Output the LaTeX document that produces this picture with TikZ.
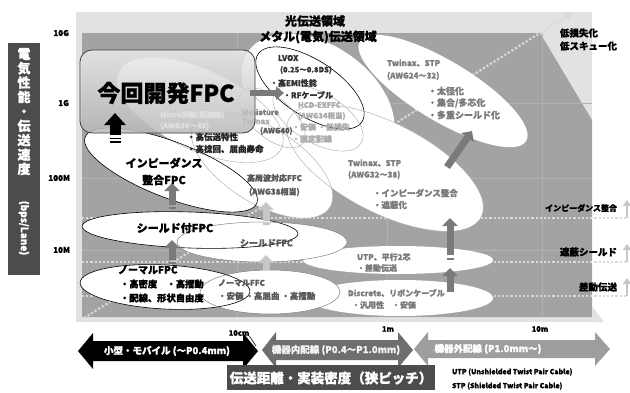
\documentclass[tikz,border=0pt]{standalone}
\usepackage{fontspec}
\setmainfont{Noto Sans CJK JP}[BoldFeatures={FakeBold=1.2}]
\usetikzlibrary{arrows.meta,shapes.geometric}
\newcommand\fsz[1]{\fontsize{#1}{#1}\selectfont}
\definecolor{pdark}{HTML}{A3A3A3}
\definecolor{plight}{HTML}{E2E2E2}
\definecolor{gridc}{HTML}{B2B2B2}
\definecolor{dotc}{HTML}{D9D9D9}
\definecolor{arrdark}{HTML}{7A7A7A}
\definecolor{arrlight}{HTML}{C6C6C6}
\definecolor{tgray}{HTML}{5A5A5A}
\definecolor{tlgray}{HTML}{7C7C7C}
\definecolor{tvlgray}{HTML}{ABABAB}
\definecolor{boxdark}{HTML}{4C4C4C}
\definecolor{arrmid}{HTML}{6E6E6E}
\definecolor{arrpale}{HTML}{9E9E9E}
\newcommand\myellfill[5]{\fill[white, rotate around={#5:(#1,#2)}] (#1,#2) ellipse [x radius=#3pt, y radius=#4pt];}
\newcommand\myelldraw[6]{\draw[#6, rotate around={#5:(#1,#2)}] (#1,#2) ellipse [x radius=#3pt, y radius=#4pt];}
\begin{document}
\begin{tikzpicture}[x=1pt,y=-1pt,
  every node/.style={inner sep=0pt, outer sep=0pt},
  txt/.style={font={\fsz{#1}\bfseries}},
  dotl/.style={draw=dotc, line width=2.2pt, dash pattern=on 2.2pt off 2pt},
  uparr/.style={line width=7pt, -{Triangle[length=8pt,width=15pt]}},
  outk/.style={draw=black, line width=0.6pt},
  outg/.style={draw=gray, line width=0.5pt},
  outl/.style={draw=gray!70, line width=0.4pt}]
\useasboundingbox (0,0) rectangle (630,392);
\fill[white] (0,0) rectangle (630,392);
% plot background
\fill[plight] (76,12) rectangle (592,322);
\fill[plight] (76,12) -- (86,27) -- (76,27) -- cycle;
\fill[pdark] (82,33) -- (540,33) -- (592,120) -- (592,317) -- (82,317) -- cycle;
\fill[plight] (592,306) -- (604,322) -- (592,322) -- cycle;
% grid
\foreach \yy in {103,178,250} \draw[gridc, line width=0.5pt] (82,\yy) -- (592,\yy);
\foreach \xx in {237,387,542} \draw[gridc, line width=0.5pt] (\xx,33) -- (\xx,317);
% dotted guide lines
\draw[dotl, -{Triangle[length=7pt,width=8pt]}] (84,318) -- (572,13);
\foreach \yy in {218,262,296} \draw[dotl] (82,\yy) -- (626,\yy);
\foreach \yy in {218,262,296} \draw[arrlight, line width=2.5pt, -{Triangle[length=6pt,width=8pt]}] (627,\yy) -- (627,\yy-18);
% white ellipse fills
\myellfill{318}{100}{85}{55}{-35}
\myellfill{200}{110}{90}{40}{-25}
\myellfill{262}{165}{80}{38}{-32}
\myellfill{385}{168}{108}{45}{-27}
\myellfill{443}{91}{97}{30}{-31}
\myellfill{171}{170}{92}{28}{-21}
\myellfill{190}{230}{108}{18}{-2}
\myellfill{262}{242}{85}{20}{0}
\myellfill{165}{287}{85}{22}{-3}
\myellfill{270}{292}{70}{22}{0}
\myellfill{398}{260}{95}{14}{0}
\myellfill{400}{298}{93}{18}{0}
% outlines
\myelldraw{200}{110}{90}{40}{-25}{outl}
\myelldraw{310}{88}{62}{28}{-33}{outk}
\myelldraw{318}{118}{50}{25}{-30}{outl}
\myelldraw{272}{118}{40}{20}{-40}{outl}
\myelldraw{262}{165}{80}{38}{-32}{outl}
\myelldraw{385}{168}{108}{45}{-27}{outl}
\myelldraw{171}{170}{92}{28}{-21}{outk}
\myelldraw{190}{230}{108}{18}{-2}{outk}
\myelldraw{262}{242}{85}{20}{0}{outg}
\myelldraw{165}{287}{85}{22}{-3}{outk}
\myelldraw{270}{292}{70}{22}{0}{outg}
% texts behind box
\node[txt=7.5, anchor=west, text=tlgray] (tmini) at (242,112) {Miniature};
\node[txt=7.5, anchor=west, text=tvlgray] (ttwx) at (242,121) {Twinax};
% FPC box
\shade[top color=gray!15, bottom color=gray!55, fill opacity=0.85, rounded corners=12pt] (80,50) rectangle (255,133);
\draw[black!75, line width=0.8pt, rounded corners=12pt] (80,50) rectangle (255,133);
\node[txt=23] (tfpc) at (166,93) {今回開発FPC};
\node[txt=7.5, anchor=west, text=gray!25] (tmic1) at (160,115) {Micro同軸(極細線)};
\node[txt=7.5, anchor=west, text=gray!25] (tmic2) at (160,126) {(AWG36〜40)};
% black up arrow
\draw[black, line width=11pt, -{Triangle[length=12pt,width=21pt]}] (115,135) -- (115,113);
\draw[black, line width=1.6pt] (109.5,138.5) -- (120.5,138.5);
\draw[black, line width=1.6pt] (109.5,142) -- (120.5,142);
% gray arrows
\draw[arrdark, line width=6pt, -{Triangle[length=8pt,width=13pt]}] (250,93) -- (284,93);
\draw[uparr, arrdark] (172,205) -- (172,183);
\draw[arrdark, line width=1.5pt] (168.5,208) -- (175.5,208);
\draw[uparr, arrdark] (172,260) -- (172,240);
\draw[arrdark, line width=1.5pt] (168.5,263) -- (175.5,263);
\draw[uparr, arrlight] (266,221) -- (266,202);
\draw[arrlight, line width=1.5pt] (262.5,224) -- (269.5,224);
\draw[uparr, arrlight] (266,270) -- (266,255);
\draw[uparr, arrdark] (450,255) -- (450,218);
\draw[arrdark, line width=2pt] (446.5,259) -- (453.5,259);
\draw[uparr, arrdark] (450,292) -- (450,268);
\draw[uparr, arrdark] (447,167) -- (472,131);
% top texts
\node[txt=12] (topt) at (315,21) {光伝送領域};
\node[txt=12] (tmet) at (318,37) {メタル(電気)伝送領域};
\node[txt=9.5, anchor=west] (tl1) at (560,33) {低損失化};
\node[txt=9.5, anchor=west] (tl2) at (560,46) {低スキュー化};
% axis labels
\node[txt=8, anchor=east] (y1) at (69,33) {10G};
\node[txt=8, anchor=east] (y2) at (69,103) {1G};
\node[txt=8, anchor=east] (y3) at (70,178) {100M};
\node[txt=8, anchor=east] (y4) at (70,250) {10M};
% left box
\fill[boxdark] (8,43) rectangle (40,275);
\node[font={\fontsize{13}{14.4}\selectfont\bfseries}, text=white, align=center, anchor=north] (yv) at (24,48) {電\\気\\性\\能\\・\\伝\\送\\速\\度};
\node[txt=10, text=white, rotate=-90] (yv2) at (24,228) {(bps/Lane)};
% LVOX group
\node[txt=8, anchor=west, text=black!80] (lv1) at (278,58) {LVOX};
\node[txt=7.5, anchor=west, text=black!80] (lv2) at (280,70) {(0.25〜0.8DS)};
\node[txt=8, anchor=west, text=black!80] (lv3) at (270,83) {・高EMI性能};
\node[txt=8, anchor=west, text=black!80] (lv4) at (283,95) {・RFケーブル};
\node[txt=7.5, anchor=west, text=tvlgray] (hc1) at (298,105) {HCD-EXFFC};
\node[txt=7.5, anchor=west, text=tvlgray] (hc2) at (298,116) {(AWG34相当)};
\node[txt=8, anchor=west, text=tvlgray] (hc3) at (292,127) {・安価 ・低損失};
\node[txt=8, anchor=west, text=tvlgray] (hc4) at (292,139) {・固定配線};
\node[txt=7.5, anchor=west, text=tgray] (mt3) at (260,131) {(AWG40)};
\node[txt=8.5, anchor=west, text=black!85] (mc1) at (187,137) {・高伝送特性};
\node[txt=8.5, anchor=west, text=black!85] (mc2) at (187,149) {・高捻回、屈曲寿命};
% FPC series
\node[txt=11] (imp1) at (164,163) {インピーダンス};
\node[txt=11] (imp2) at (164,180) {整合FPC};
\node[txt=11] (shf) at (175,228) {シールド付FPC};
\node[txt=10, anchor=west] (nf1) at (118,270) {ノーマルFPC};
\node[txt=9.3, anchor=west] (nf2) at (120,284) {・高密度　・高摺動};
\node[txt=9.3, anchor=west] (nf3) at (120,298) {・配線、形状自由度};
% FFC series
\node[txt=8, anchor=west, text=tgray] (hf1) at (247,178) {高周波対応FFC};
\node[txt=8, anchor=west, text=tgray] (hf2) at (249,192) {(AWG38相当)};
\node[txt=9, anchor=west, text=tgray] (sff) at (240,243) {シールドFFC};
\node[txt=8, anchor=west, text=tgray] (nff1) at (218,283) {ノーマルFFC};
\node[txt=8.5, anchor=west, text=tgray] (nff2) at (218,296) {・安価 ・高屈曲 ・高摺動};
% cables
\node[txt=8, anchor=west, text=tlgray] (tw1) at (348,163) {Twinax、STP};
\node[txt=8, anchor=west, text=tlgray] (tw2) at (348,175) {(AWG32〜38)};
\node[txt=8.5, anchor=west, text=tlgray] (tw3) at (373,193) {・インピーダンス整合};
\node[txt=8.5, anchor=west, text=tlgray] (tw4) at (373,205) {・遮蔽化};
\node[txt=8, anchor=west, text=tlgray] (tv1) at (387,63) {Twinax、STP};
\node[txt=8, anchor=west, text=tlgray] (tv2) at (387,76) {(AWG24〜32)};
\node[txt=9, anchor=west, text=tlgray] (tv3) at (428,91) {・太径化};
\node[txt=9, anchor=west, text=tlgray] (tv4) at (428,103) {・集合/多芯化};
\node[txt=9, anchor=west, text=tlgray] (tv5) at (428,115) {・多重シールド化};
\node[txt=8, anchor=west, text=tlgray] (ut1) at (357,257) {UTP、平行2芯};
\node[txt=8, anchor=west, text=tlgray] (ut2) at (357,268) {・差動伝送};
\node[txt=8, anchor=west, text=tlgray] (ds1) at (348,293) {Discrete、リボンケーブル};
\node[txt=8, anchor=west, text=tlgray] (ds2) at (352,305) {・汎用性　・安価};
% right labels
\node[txt=8, anchor=east] (r1) at (617,208) {インピーダンス整合};
\node[txt=9.5, anchor=east] (r2) at (617,252) {遮蔽シールド};
\node[txt=9.5, anchor=east] (r3) at (617,287) {差動伝送};
% bottom arrows
\fill[black] (78,351) -- (93,333) -- (93,341) -- (243,341) -- (243,333) -- (258,351) -- (243,369) -- (243,361) -- (93,361) -- (93,369) -- cycle;
\fill[arrmid] (262,350) -- (276,332) -- (276,340) -- (398,340) -- (398,332) -- (413,350) -- (398,368) -- (398,360) -- (276,360) -- (276,368) -- cycle;
\fill[arrpale] (414,349) -- (428,332) -- (428,340) -- (595,340) -- (595,332) -- (610,349) -- (595,366) -- (595,358) -- (428,358) -- (428,366) -- cycle;
\node[txt=9.5, text=white] (b1) at (167,351) {小型・モバイル (〜P0.4mm)};
\node[txt=9.5, text=white!90!gray] (b2) at (336,350) {機器内配線 (P0.4〜P1.0mm)};
\node[txt=9.5, text=white] (b3) at (488,349) {機器外配線 (P1.0mm〜)};
\node[txt=7.5] (d1) at (239,333) {10cm};
\node[txt=7.5] (d2) at (388,329) {1m};
\node[txt=7.5] (d3) at (540,329) {10m};
\draw[black, line width=0.6pt] (d1.south east) -- (256,346);
\fill[boxdark] (227,365) rectangle (435,390);
\node[txt=13.5, text=white] (bx) at (331,378) {伝送距離・実装密度（狭ピッチ）};
\node[txt=7, anchor=west] (lg1) at (452,372) {UTP (Unshielded Twist Pair Cable)};
\node[txt=7, anchor=west] (lg2) at (452,386) {STP (Shielded Twist Pair Cable)};
\end{tikzpicture}
\end{document}
